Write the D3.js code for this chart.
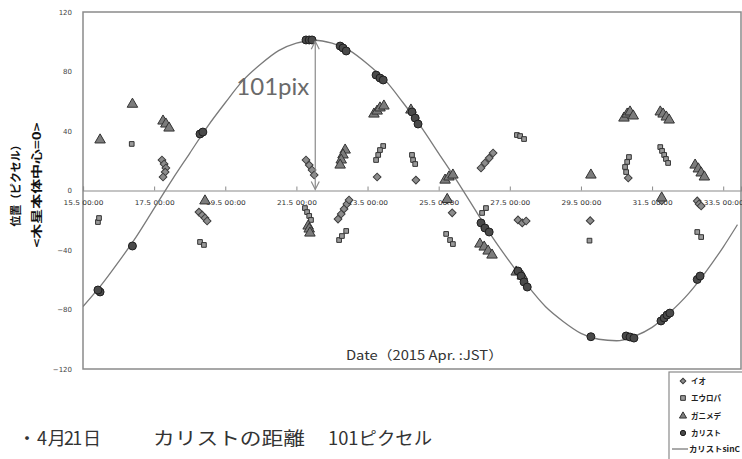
<!DOCTYPE html>
<html>
<head>
<meta charset="utf-8">
<script src="https://cdn.jsdelivr.net/npm/d3@7"></script>
<style>
  html, body { margin: 0; padding: 0; background: #fff; overflow: hidden; }
  svg { display: block; }
</style>
</head>
<body>
<svg id="chart" width="742" height="459"></svg>
<script>
// x tick labels and y ticks
const xTicks = [15.5, 17.5, 19.5, 21.5, 23.5, 25.5, 27.5, 29.5, 31.5, 33.5];
const xTickLabels = ["15.5 00:00", "17.5 00:00", "19.5 00:00", "21.5 00:00", "23.5 00:00",
                     "25.5 00:00", "27.5 00:00", "29.5 00:00", "31.5 00:00", "33.5 00:00"];
const yTicks = [120, 80, 40, 0, -40, -80, -120];

// [day, pixel offset]
const io = [
  [17.72, 20.5], [17.78, 17.8], [17.83, 15.1], [17.81, 12.4], [17.75, 9.1],
  [18.76, -14.5], [18.85, -16.5], [18.93, -18.5], [18.99, -20.5],
  [21.77, 20.5], [21.86, 17.1], [21.94, 13.8], [22.0, 10.4],
  [22.67, -19.2], [22.76, -15.8], [22.84, -12.4], [22.92, -9.1], [22.98, -6.4],
  [23.77, 9.1], [24.86, 7.0], [25.74, -6.4], [25.88, -15.0],
  [26.69, 15.1], [26.8, 18.5], [26.92, 21.8], [27.03, 25.2],
  [27.73, -19.8], [27.85, -21.8], [27.96, -20.5],
  [29.76, -20.3], [30.83, 8.4], [31.77, -6.9],
  [32.77, -7.0], [32.82, -9.0], [32.88, -10.4]
];
const europa = [
  [15.92, -21.2], [15.95, -18.5], [16.87, 31.3],
  [18.79, -34.6], [18.9, -36.6],
  [21.74, -11.8], [21.8, -14.5], [21.86, -17.1], [21.91, -19.8],
  [22.7, -33.3], [22.78, -30.6], [22.9, -27.2],
  [23.94, 29.9], [23.85, 27.2], [23.8, 23.9], [23.74, 20.5],
  [24.75, 23.9], [24.78, 20.5], [24.84, 17.8],
  [25.71, -29.2], [25.82, -33.3], [25.9, -36.0],
  [26.72, -15.1], [26.83, -11.8],
  [27.7, 37.3], [27.79, 36.6], [27.9, 34.6],
  [29.74, -33.7],
  [30.85, 22.5], [30.8, 19.2], [30.74, 15.8], [30.77, 12.4],
  [31.73, 29.2], [31.78, 26.6], [31.84, 23.9], [31.89, 21.2], [31.95, 18.5],
  [32.77, -27.9], [32.88, -31.3]
];
const ganymede = [
  [15.98, 34.0], [16.89, 58.0],
  [17.75, 46.7], [17.83, 44.7], [17.92, 42.0],
  [18.93, -7.0],
  [21.83, -23.9], [21.86, -25.9], [21.88, -28.6],
  [22.87, 27.2], [22.81, 23.9], [22.76, 20.5], [22.73, 17.1],
  [23.68, 51.4], [23.77, 53.4], [23.85, 55.5], [23.96, 56.8],
  [24.72, 54.1],
  [25.68, 7.0], [25.79, 9.1], [25.9, 10.4], [25.74, -6.0],
  [26.66, -36.0], [26.78, -38.0], [26.89, -40.7], [27.0, -43.4],
  [27.68, -54.8], [27.85, -57.5],
  [29.78, 10.4],
  [30.71, 48.7], [30.8, 51.4], [30.88, 52.8], [30.97, 50.1],
  [31.73, 52.8], [31.81, 51.4], [31.9, 49.4], [31.98, 47.4], [31.77, -5.0],
  [32.71, 17.1], [32.8, 14.5], [32.88, 11.8], [32.97, 9.1]
];
const callisto = [
  [15.98, -68.2], [15.92, -66.9], [16.89, -37.3],
  [18.79, 38.0], [18.87, 39.3],
  [21.77, 101.2], [21.86, 101.2], [21.94, 101.2],
  [22.73, 97.1], [22.81, 95.8], [22.9, 93.8],
  [23.74, 77.6], [23.85, 75.6], [23.94, 74.3],
  [24.75, 52.8], [24.84, 48.7], [24.92, 44.7],
  [26.69, -21.8], [26.8, -25.2], [26.92, -27.9],
  [27.73, -54.1], [27.82, -57.5], [27.9, -61.5], [27.99, -64.9],
  [29.78, -98.3],
  [30.77, -97.8], [30.88, -98.5], [30.99, -99.2],
  [31.75, -87.7], [31.84, -85.7], [31.92, -83.7], [32.0, -82.4],
  [32.77, -59.8], [32.85, -57.5]
];
// fitted curve, read every half day
const curveDays = [15.5, 16, 16.5, 17, 17.5, 18, 18.5, 19, 19.5, 20, 20.5, 21, 21.5, 22, 22.5,
                   23, 23.5, 24, 24.5, 25, 25.5, 26, 26.5, 27, 27.5, 28, 28.5, 29, 29.5, 30,
                   30.5, 31, 31.5, 32, 32.5, 33, 33.5, 33.9];
const curveValues = [-78, -64, -48, -31, -12, 7, 25, 43, 59, 74, 85, 94, 99, 101, 99,
                     94, 85, 74, 59, 43, 25, 7, -12, -31, -48, -64, -78, -88, -96, -100,
                     -101, -98, -92, -82, -70, -55, -38, -23];

const legendNames = ["イオ", "エウロパ", "ガニメデ", "カリスト", "カリストsinC"];
const peakDay = 22.03, peakValue = 101;

const svg = d3.select("#chart");
const margin = { top: 12, left: 83, right: 1, bottom: 90 };
const plotW = 742 - margin.left - margin.right;
const plotH = 459 - margin.top - margin.bottom;

const x = d3.scaleLinear().domain([15.5, 34]).range([0, plotW]);
const y = d3.scaleLinear().domain([-120, 120]).range([plotH, 0]);

const chart = svg.append("g").attr("transform", `translate(${margin.left},${margin.top})`);

chart.append("defs").append("clipPath").attr("id", "clip")
  .append("rect").attr("width", plotW).attr("height", plotH);

// plot frame
chart.append("rect")
  .attr("width", plotW).attr("height", plotH)
  .attr("fill", "none").attr("stroke", "#8a8a8a").attr("stroke-width", 1.5);

// zero axis with ticks and labels
const xAxis = d3.axisBottom(x).tickValues(xTicks)
  .tickSize(-4).tickPadding(10)
  .tickFormat((d, i) => xTickLabels[i]);
const gx = chart.append("g").attr("transform", `translate(0,${y(0)})`).call(xAxis);
gx.select(".domain").attr("stroke", "#8a8a8a").attr("stroke-width", 1.2);
gx.selectAll(".tick line").attr("stroke", "#8a8a8a");
gx.selectAll(".tick text")
  .attr("font-family", "DejaVu Sans Condensed, DejaVu Sans, sans-serif")
  .attr("font-size", 6.5).attr("fill", "#333")
  .attr("textLength", 40).attr("lengthAdjust", "spacingAndGlyphs");

const yAxis = d3.axisLeft(y).tickValues(yTicks).tickSize(0).tickPadding(11);
const gy = chart.append("g").call(yAxis);
gy.select(".domain").remove();
gy.selectAll(".tick text")
  .attr("font-family", "DejaVu Sans, sans-serif")
  .attr("font-size", 7).attr("fill", "#444");

// fitted curve
const line = d3.line().x(d => x(d[0])).y(d => y(d[1])).curve(d3.curveMonotoneX);
chart.append("path")
  .datum(curveDays.map((d, i) => [d, curveValues[i]]))
  .attr("clip-path", "url(#clip)")
  .attr("d", line).attr("fill", "none")
  .attr("stroke", "#7a7a7a").attr("stroke-width", 1.3);

// markers (diamond = square turned 45 degrees)
const sym = {
  diamond: d3.symbol().type(d3.symbolSquare).size(30),
  square: d3.symbol().type(d3.symbolSquare).size(22),
  triangle: d3.symbol().type(d3.symbolTriangle).size(48),
  circle: d3.symbol().type(d3.symbolCircle).size(50)
};
const rot = { diamond: 45, square: 0, triangle: 0, circle: 0 };
const styles = {
  diamond: { fill: "#8c8c8c", stroke: "#3c3c3c" },
  square: { fill: "#9a9a9a", stroke: "#333" },
  triangle: { fill: "#7c7c7c", stroke: "#333" },
  circle: { fill: "#4a4a4a", stroke: "#1e1e1e" }
};
function drawSeries(data, kind) {
  chart.append("g").selectAll("path")
    .data(data).enter().append("path")
    .attr("d", sym[kind])
    .attr("transform", d => `translate(${x(d[0])},${y(d[1])}) rotate(${rot[kind]})`)
    .attr("fill", styles[kind].fill)
    .attr("stroke", styles[kind].stroke).attr("stroke-width", 1);
}
drawSeries(io, "diamond");
drawSeries(europa, "square");
drawSeries(ganymede, "triangle");
drawSeries(callisto, "circle");

// distance arrow
const ax = x(peakDay);
chart.append("line")
  .attr("x1", ax).attr("x2", ax).attr("y1", y(peakValue) + 1).attr("y2", y(0) - 1)
  .attr("stroke", "#8a8a8a").attr("stroke-width", 1.2);
[[y(peakValue) + 1, 1], [y(0) - 1, -1]].forEach(([yy, dir]) => {
  chart.append("path")
    .attr("d", `M${ax - 4},${yy + dir * 8}L${ax},${yy}L${ax + 4},${yy + dir * 8}`)
    .attr("fill", "none").attr("stroke", "#8a8a8a").attr("stroke-width", 1.2);
});
chart.append("text")
  .attr("x", ax - 6).attr("y", y(64))
  .attr("text-anchor", "end")
  .attr("font-family", "Lato, sans-serif").attr("font-size", 24)
  .attr("fill", "#6a6a6a")
  .text("101pix");

// axis titles
chart.append("text")
  .attr("x", x(25.1)).attr("y", plotH - 9)
  .attr("text-anchor", "middle")
  .attr("font-family", "Noto Sans CJK JP, sans-serif").attr("font-size", 12.5)
  .attr("fill", "#333")
  .attr("textLength", 157).attr("lengthAdjust", "spacingAndGlyphs")
  .text("Date（2015  Apr. :JST）");

svg.append("text")
  .attr("transform", "translate(20,183) rotate(-90)")
  .attr("text-anchor", "middle")
  .attr("font-family", "Noto Sans CJK JP, sans-serif").attr("font-size", 11)
  .attr("font-weight", "bold").attr("fill", "#111")
  .attr("textLength", 87).attr("lengthAdjust", "spacingAndGlyphs")
  .text("位置（ピクセル）");
svg.append("text")
  .attr("transform", "translate(41,185) rotate(-90)")
  .attr("text-anchor", "middle")
  .attr("font-family", "Noto Sans CJK JP, sans-serif").attr("font-size", 11)
  .attr("font-weight", "bold").attr("fill", "#111")
  .attr("textLength", 125).attr("lengthAdjust", "spacingAndGlyphs")
  .text("<木星本体中心=0>");

// legend
const legend = svg.append("g").attr("transform", "translate(669,372)");
legend.append("rect")
  .attr("width", 80).attr("height", 100)
  .attr("fill", "#fff").attr("stroke", "#8a8a8a").attr("stroke-width", 1.2);
const legendKinds = ["diamond", "square", "triangle", "circle"];
const legendY = [9, 26, 44, 61, 77];
legendKinds.forEach((k, i) => {
  legend.append("path")
    .attr("d", d3.symbol().type(i === 2 ? d3.symbolTriangle : (i === 3 ? d3.symbolCircle : d3.symbolSquare)).size(i === 0 ? 16 : 22))
    .attr("transform", `translate(14,${legendY[i]}) rotate(${rot[k]})`)
    .attr("fill", styles[k].fill).attr("stroke", styles[k].stroke);
});
legend.append("line")
  .attr("x1", 3).attr("x2", 19).attr("y1", legendY[4]).attr("y2", legendY[4])
  .attr("stroke", "#555").attr("stroke-width", 1);
legendNames.forEach((n, i) => {
  legend.append("text")
    .attr("x", i === 4 ? 20 : 22).attr("y", legendY[i] + 3)
    .attr("font-family", "Noto Sans CJK JP, sans-serif").attr("font-size", 7.5)
    .attr("font-weight", "bold").attr("fill", "#222")
    .attr("textLength", i === 4 ? 51 : null).attr("lengthAdjust", "spacingAndGlyphs")
    .text(n);
});

// caption under the chart
const cap = svg.append("g")
  .attr("font-family", "Noto Sans CJK JP, sans-serif")
  .attr("fill", "#333").attr("font-size", 18);
cap.append("text").attr("x", 18).attr("y", 445).text("・");
cap.append("text").attr("x", 37).attr("y", 445)
  .attr("textLength", 64).attr("lengthAdjust", "spacing").text("4 月21 日");
cap.append("text").attr("x", 153).attr("y", 445)
  .attr("textLength", 152).attr("lengthAdjust", "spacingAndGlyphs").text("カリストの距離");
cap.append("text").attr("x", 328).attr("y", 445)
  .attr("textLength", 104).attr("lengthAdjust", "spacingAndGlyphs").text("101ピクセル");
</script>
</body>
</html>
